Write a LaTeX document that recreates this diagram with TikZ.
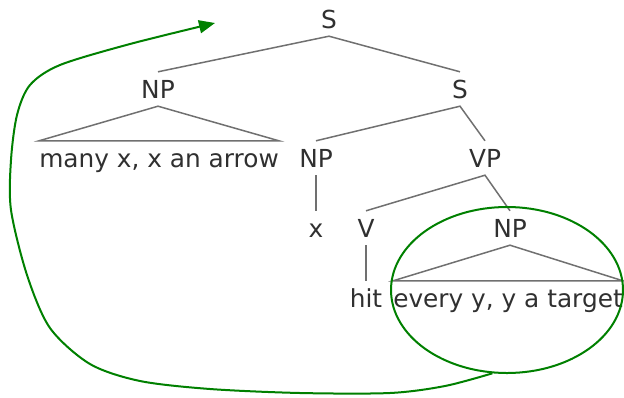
\documentclass[tikz,border=0pt]{standalone}
\usepackage{fontspec}
\setmainfont{DejaVu Sans}
\usetikzlibrary{shapes.geometric,arrows.meta}
\definecolor{branchgray}{HTML}{707070}
\definecolor{labelgray}{HTML}{303030}
\definecolor{movegreen}{HTML}{008000}
\tikzset{
    font=\fontsize{24.8}{30}\selectfont,
    % --- tree ---
    cat/.style={text=labelgray, inner xsep=0pt, inner ysep=8pt,
                text height=18pt, text depth=0pt, anchor=base},
    branch/.style={draw=branchgray, line width=1.5pt},
    % --- movement ---
    scope_ring/.style={draw=movegreen, line width=2pt, ellipse, inner sep=0pt,
                       minimum width=232pt, minimum height=166pt},
    raise/.style={draw=movegreen, line width=2pt,
                  -{Triangle[length=16pt,width=13pt]}}
}

\begin{document}
\begin{tikzpicture}[x=1pt,y=-1pt]
    \useasboundingbox (0,0) rectangle (624,397);

    \node[cat] (S) at (329,28) {S};
    \node[cat] (NPa) at (158,98) {NP};
    \node[cat] (Sb) at (460,98) {S};
    \node[cat] (many) at (159,167) {many x, x an arrow};
    \node[cat] (NPb) at (316,167) {NP};
    \node[cat] (VP) at (485,167) {VP};
    \node[cat] (x) at (316,237) {x};
    \node[cat] (V) at (366,237) {V};
    \node[cat] (NPc) at (510,237) {NP};
    \node[cat] (hit) at (366,307) {hit};
    \node[cat] (every) at (508,307) {every y, y a target};

    \draw[branch] (NPa.north) -- (S.south) -- (Sb.north);
    \draw[branch] (NPb.north) -- (Sb.south) -- (VP.north);
    \draw[branch] (V.north) -- (VP.south) -- (NPc.north);
    \draw[branch] (NPb.south) -- (x.north);
    \draw[branch] (V.south) -- (hit.north);
    \draw[branch] (NPa.south) -- (many.north west) -- (many.north east) -- cycle;
    \draw[branch] (NPc.south) -- (every.north west) -- (every.north east) -- cycle;

    \node[scope_ring] (ring) at (507,290) {};
    \coordinate (landing) at (215,23);
    \draw[raise] plot[smooth, tension=0.5] coordinates {(ring.260) (445,386)
        (390,393) (300,393) (210,389) (140,381) (90,364) (50,328) (27,275)
        (11,210) (11,160) (17,115) (30,85) (60,65) (130,44) (landing)};
\end{tikzpicture}
\end{document}
